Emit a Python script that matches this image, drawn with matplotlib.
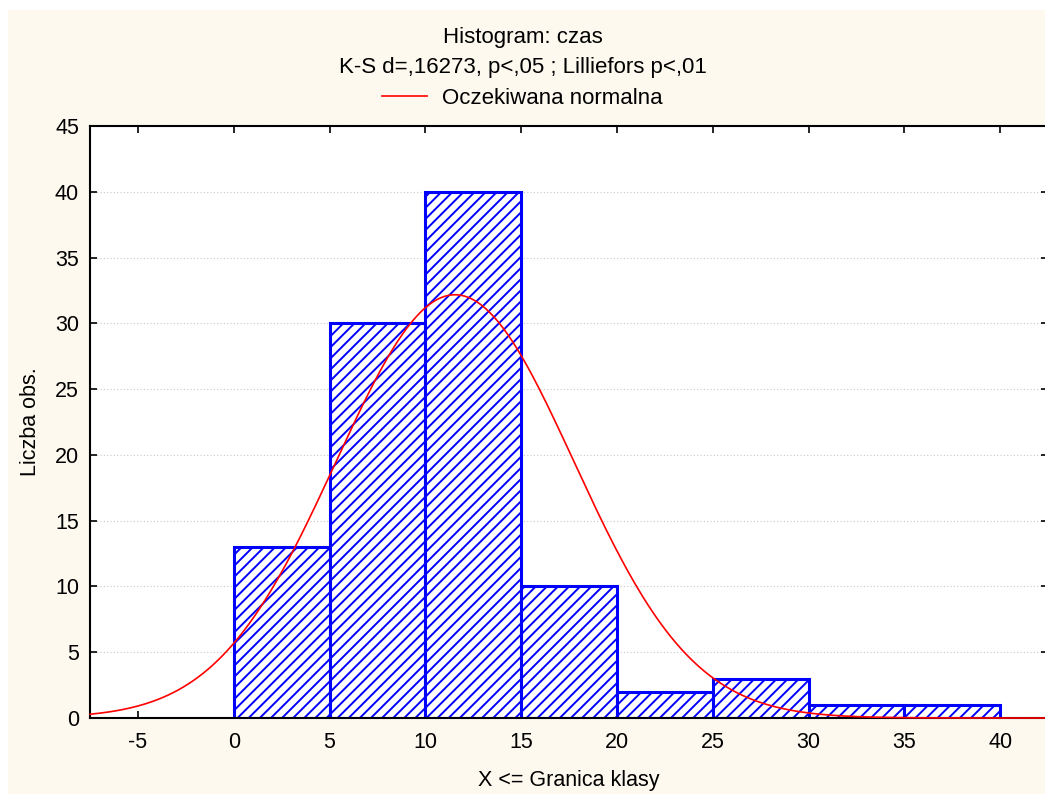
import numpy as np
import matplotlib
matplotlib.use("Agg")
import matplotlib.pyplot as plt
from matplotlib.patches import Rectangle

plt.rcParams['font.family'] = ['Liberation Sans', 'DejaVu Sans']
plt.rcParams['hatch.color'] = '#0000FF'
plt.rcParams['hatch.linewidth'] = 1.4

# histogram data (upper class limits, counts)
bin_edges = [0, 5, 10, 15, 20, 25, 30, 35, 40]
counts = [13, 30, 40, 10, 2, 3, 1, 1]
# expected normal curve parameters
mean_est = 11.55
sd_est = 6.2
n_obs = sum(counts)
bin_w = 5

fig = plt.figure(figsize=(10.45, 7.94), dpi=100)
fig.patches.append(Rectangle((8 / 1045, 0), 1, 1 - 10 / 794, transform=fig.transFigure,
                             facecolor='#FDF9EF', edgecolor='none', zorder=-10))

ax = fig.add_axes([90 / 1045, 1 - 718 / 794, 958 / 1045, 592 / 794])
ax.set_facecolor('white')

ax.bar(bin_edges[:-1], counts, width=bin_w, align='edge', facecolor='white',
       edgecolor='#0000FF', linewidth=2.2, hatch='///', zorder=2)

xs = np.linspace(-7.5, 42.5, 400)
ys = n_obs * bin_w / (sd_est * np.sqrt(2 * np.pi)) * np.exp(-(xs - mean_est) ** 2 / (2 * sd_est ** 2))
line, = ax.plot(xs, ys, color='#FF0000', linewidth=1.2, zorder=3, clip_on=False)

ax.set_xlim(-7.5, 42.5)
ax.set_ylim(0, 45)
ax.set_xticks(range(-5, 45, 5))
ax.set_xticklabels([str(v) for v in range(-5, 45, 5)])
ax.set_yticks(range(0, 50, 5))
ax.tick_params(direction='in', top=True, right=True, length=5, width=1.2,
               labelsize=15.5)
ax.tick_params(axis='x', pad=10)
ax.tick_params(axis='y', pad=8)
ax.grid(axis='y', linestyle=(0, (1, 2)), color='#C8C8C8', linewidth=0.8, zorder=0)
for s in ax.spines.values():
    s.set_linewidth(1.5)

ax.set_xlabel('X <= Granica klasy', fontsize=15.5, labelpad=12)
ax.set_ylabel('Liczba obs.', fontsize=15.5, labelpad=10)

fig.text(0.5, 1 - 38 / 794, 'Histogram: czas', ha='center', va='center', fontsize=16)
fig.text(0.5, 1 - 68 / 794, 'K-S d=,16273, p<,05 ; Lilliefors p<,01', ha='center', va='center', fontsize=16)
fig.legend([line], ['Oczekiwana normalna'], loc='center', bbox_to_anchor=(0.5, 1 - 98 / 794),
           frameon=False, fontsize=16, handlelength=2.0, handletextpad=0.7, borderpad=0)

fig.savefig('out.png', dpi=100)
